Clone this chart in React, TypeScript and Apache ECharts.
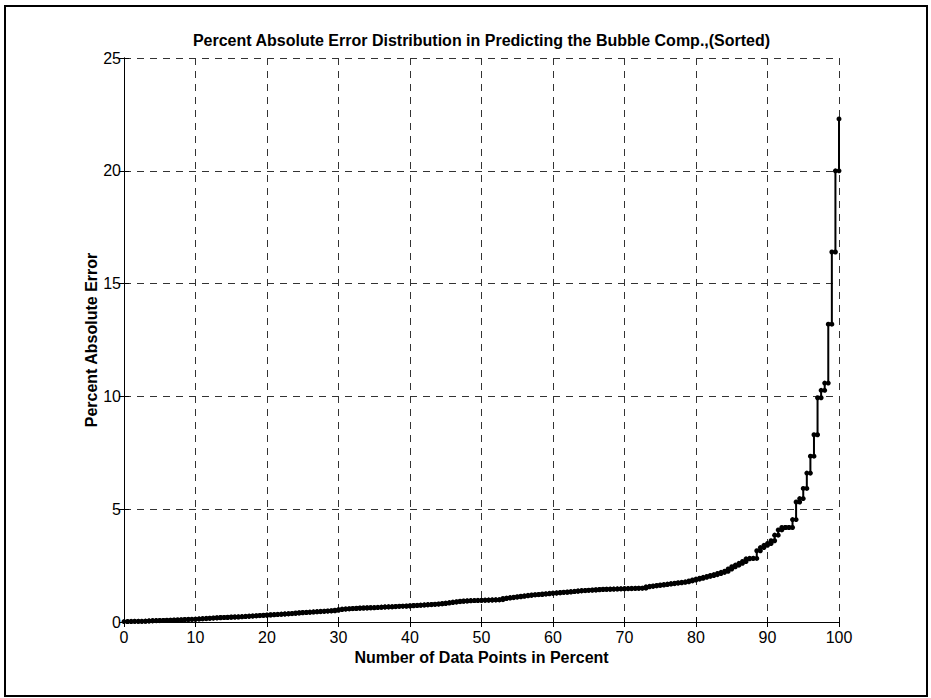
import React, { useEffect, useRef } from "react";
import * as echarts from "echarts";

// Sorted percent absolute error of each prediction (201 samples, ascending)
const percentError: number[] = [
  0.02, 0.02, 0.03, 0.03, 0.03, 0.03, 0.04, 0.05, 0.06, 0.06,
  0.07, 0.07, 0.08, 0.08, 0.09, 0.09, 0.10, 0.11, 0.12, 0.12,
  0.13, 0.14, 0.15, 0.16, 0.17, 0.18, 0.19, 0.20, 0.20, 0.21,
  0.22, 0.22, 0.23, 0.24, 0.25, 0.26, 0.27, 0.28, 0.29, 0.30,
  0.31, 0.32, 0.33, 0.34, 0.35, 0.36, 0.37, 0.38, 0.40, 0.41,
  0.42, 0.43, 0.44, 0.45, 0.46, 0.47, 0.48, 0.49, 0.50, 0.52,
  0.55, 0.57, 0.58, 0.59, 0.60, 0.61, 0.62, 0.62, 0.63, 0.63,
  0.64, 0.65, 0.66, 0.67, 0.67, 0.68, 0.69, 0.70, 0.70, 0.71,
  0.72, 0.73, 0.74, 0.75, 0.76, 0.77, 0.78, 0.79, 0.80, 0.82,
  0.84, 0.86, 0.88, 0.90, 0.92, 0.93, 0.94, 0.95, 0.95, 0.96,
  0.96, 0.97, 0.97, 0.98, 0.98, 0.99, 1.04, 1.06, 1.08, 1.10,
  1.12, 1.14, 1.16, 1.18, 1.20, 1.21, 1.22, 1.24, 1.25, 1.27,
  1.28, 1.29, 1.31, 1.32, 1.33, 1.35, 1.36, 1.38, 1.39, 1.40,
  1.41, 1.42, 1.43, 1.44, 1.45, 1.45, 1.46, 1.46, 1.47, 1.47,
  1.48, 1.48, 1.49, 1.49, 1.50, 1.50, 1.56, 1.58, 1.60, 1.62,
  1.64, 1.66, 1.68, 1.70, 1.72, 1.74, 1.76, 1.78, 1.82, 1.86,
  1.90, 1.94, 1.98, 2.02, 2.06, 2.10, 2.15, 2.20, 2.25, 2.35,
  2.45, 2.52, 2.60, 2.68, 2.80, 2.82, 2.82, 3.16, 3.30, 3.40,
  3.48, 3.60, 3.85, 4.08, 4.19, 4.19, 4.19, 4.54, 5.32, 5.47,
  5.92, 6.60, 7.35, 8.30, 9.94, 10.27, 10.59, 13.2, 16.4, 20.0,
  22.3,
];

// Axis ranges
const xRange = { min: 0, max: 100, step: 10 };
const yRange = { min: 0, max: 25, step: 5 };

const titleText =
  "Percent Absolute Error Distribution in Predicting the Bubble Comp.,(Sorted)";
const xTitle = "Number of Data Points in Percent";
const yTitle = "Percent Absolute Error";

const FONT = "'Liberation Sans', Arial, Helvetica, sans-serif";

export default function App() {
  const ref = useRef<HTMLDivElement>(null);

  useEffect(() => {
    if (!ref.current) return;
    const chart = echarts.init(ref.current, undefined, { renderer: "svg" });

    // Staircase vertices: every sample holds its level until the next one
    const n = percentError.length;
    const pct = percentError.map((_, i) => (i * 100) / (n - 1));
    const stairs: [number, number][] = [];
    for (let i = 0; i < n - 1; i++) {
      stairs.push([pct[i], percentError[i]]);
      stairs.push([pct[i + 1], percentError[i]]);
    }
    stairs.push([pct[n - 1], percentError[n - 1]]);

    const grid = { left: 124, right: 92, top: 58, bottom: 76 };
    const plotCenterX = grid.left + (931 - grid.left - grid.right) / 2;

    const dashed = { type: [7, 6] as any, color: "#333", width: 1 };
    const tickStyle = { show: true, inside: true, length: 5, lineStyle: { color: "#000", width: 1 } };
    const lineStyle = { show: true, lineStyle: { color: "#000", width: 1 } };
    const titleFont = { fontFamily: FONT, fontWeight: "bold", fontSize: 16, color: "#000" };

    chart.setOption({
      animation: false,
      backgroundColor: "#fff",
      grid: { ...grid, show: false, containLabel: false },
      graphic: [
        {
          type: "rect",
          shape: { x: 5, y: 6, width: 922, height: 690 },
          style: { fill: "none", stroke: "#000", lineWidth: 2 },
          silent: true,
        },
        {
          type: "text",
          x: plotCenterX,
          y: 40,
          style: {
            text: titleText,
            font: `bold 16px ${FONT}`,
            fill: "#000",
            textAlign: "center",
            textVerticalAlign: "middle",
          },
        },
      ],
      xAxis: [
        {
          type: "value",
          min: xRange.min,
          max: xRange.max,
          interval: xRange.step,
          position: "bottom",
          name: xTitle,
          nameLocation: "middle",
          nameGap: 27,
          nameMoveOverlap: false,
          nameTextStyle: titleFont,
          axisLine: lineStyle,
          axisTick: tickStyle,
          axisLabel: { margin: 7, fontFamily: FONT, fontSize: 16, color: "#000" },
          splitLine: { show: true, lineStyle: dashed },
        },
        {
          type: "value",
          min: xRange.min,
          max: xRange.max,
          interval: xRange.step,
          position: "top",
          axisLine: lineStyle,
          axisTick: tickStyle,
          axisLabel: { show: false },
          splitLine: { show: false },
        },
      ],
      yAxis: [
        {
          type: "value",
          min: yRange.min,
          max: yRange.max,
          interval: yRange.step,
          position: "left",
          name: yTitle,
          nameLocation: "middle",
          nameGap: 25,
          nameMoveOverlap: false,
          nameTextStyle: titleFont,
          axisLine: lineStyle,
          axisTick: tickStyle,
          axisLabel: { margin: 3, fontFamily: FONT, fontSize: 16, color: "#000" },
          splitLine: { show: true, lineStyle: dashed },
        },
        {
          type: "value",
          min: yRange.min,
          max: yRange.max,
          interval: yRange.step,
          position: "right",
          axisLine: lineStyle,
          axisTick: tickStyle,
          axisLabel: { show: false },
          splitLine: { show: false },
        },
      ],
      series: [
        {
          type: "line",
          xAxisIndex: 0,
          yAxisIndex: 0,
          data: stairs,
          symbol: "circle",
          symbolSize: 5,
          showSymbol: true,
          itemStyle: { color: "#000" },
          lineStyle: { color: "#000", width: 2 },
          silent: true,
        },
      ],
    });

    return () => chart.dispose();
  }, []);

  return (
    <div
      ref={ref}
      style={{ position: "absolute", left: 0, top: 0, width: 931, height: 698 }}
    />
  );
}
